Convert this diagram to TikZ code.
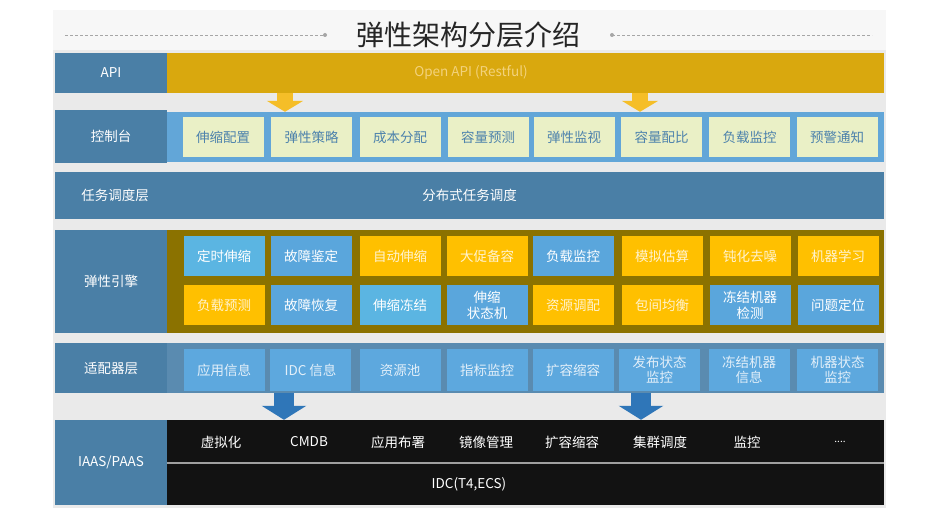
\documentclass[tikz,border=0pt]{standalone}
\usepackage{fontspec}
\setmainfont{Noto Sans CJK SC}
\usetikzlibrary{arrows.meta}

\definecolor{labelblue}{HTML}{4A7FA6}
\definecolor{goldbar}{HTML}{D9A80E}
\definecolor{apitext}{HTML}{F3D27C}
\definecolor{ctlframe}{HTML}{62A6D8}
\definecolor{ctlbox}{HTML}{EAF0C6}
\definecolor{ctltext}{HTML}{4D82AC}
\definecolor{olive}{HTML}{8B7200}
\definecolor{goldbox}{HTML}{FFC000}
\definecolor{goldtext}{HTML}{FFF3CF}
\definecolor{bluebox}{HTML}{5AA6DC}
\definecolor{cyanbox}{HTML}{5BB5E2}
\definecolor{adframe}{HTML}{5A8BB0}
\definecolor{adbox}{HTML}{5DA8DE}
\definecolor{adtext}{HTML}{E2EFF9}
\definecolor{panel}{HTML}{EAEAEA}
\definecolor{arrowgold}{HTML}{F5BE28}
\definecolor{arrowblue}{HTML}{2F76B8}

\tikzset{
  txt/.style={font=\fontsize{13.5}{15.5}\selectfont,align=center,inner sep=0pt},
  layer/.style={txt,fill=labelblue,text=white,minimum width=112pt},
  bar/.style={inner sep=0pt,minimum width=717pt},
  ctlcell/.style={txt,fill=ctlbox,text=ctltext,minimum width=81pt,minimum height=40pt},
  goldcell/.style={txt,fill=goldbox,text=goldtext,minimum width=81pt,minimum height=40pt},
  bluecell/.style={txt,fill=bluebox,text=white,minimum width=81pt,minimum height=40pt},
  cyancell/.style={bluecell,fill=cyanbox},
  adcell/.style={txt,fill=adbox,text=adtext,minimum width=81pt,minimum height=42pt},
  iaastxt/.style={txt,text=white},
  titleline/.style={draw=gray!70,densely dashed,line width=0.8pt},
  yarrow/.style={draw=arrowgold,line width=16pt,-{Triangle[width=36pt,length=11pt]}},
  barrow/.style={draw=arrowblue,line width=20pt,-{Triangle[width=44pt,length=14pt]}}
}

\begin{document}
\begin{tikzpicture}[x=1pt,y=-1pt]
    \useasboundingbox[fill=white] (0,0) rectangle (948,521);
    \fill[panel] (53,10) rectangle (886,508);
    \fill[gray!6] (53,10) rectangle (886,50);

    % title
    \node[font=\fontsize{28}{30}\selectfont,text=black!85,inner sep=0pt] (title) at (468,35) {弹性架构分层介绍};
    \coordinate (tl) at (65,35);
    \coordinate (tld) at (325,35);
    \coordinate (trd) at (612,35);
    \coordinate (tr) at (872,35);
    \draw[titleline] (tl) -- (tld);
    \draw[titleline] (trd) -- (tr);
    \fill[gray!70] (tld) circle (2pt);
    \fill[gray!70] (trd) circle (2pt);

    % API
    \node[layer,minimum height=40pt] (api) at (111,73) {API};
    \node[bar,fill=goldbar,minimum height=40pt] (apibar) at (525.5,73) {};
    \node[txt,text=apitext] (apitxt) at (471,73) {Open API (Restful)};

    % control
    \node[layer,minimum height=53pt] (ctl) at (111,136.5) {控制台};
    \node[bar,fill=ctlframe,minimum height=50pt] (ctlbar) at (525.5,137) {};
    \node[ctlcell] (c1) at (223,137) {伸缩配置};
    \node[ctlcell] (c2) at (311.5,137) {弹性策略};
    \node[ctlcell] (c3) at (400,137) {成本分配};
    \node[ctlcell] (c4) at (488,137) {容量预测};
    \node[ctlcell] (c5) at (574,137) {弹性监视};
    \node[ctlcell] (c6) at (661.5,137) {容量配比};
    \node[ctlcell] (c7) at (749.5,137) {负载监控};
    \node[ctlcell] (c8) at (837,137) {预警通知};

    \coordinate (ya1) at (285,0);
    \coordinate (ya2) at (640,0);
    \draw[yarrow] (apibar.south -| ya1) -- (ctlbar.north -| ya1);
    \draw[yarrow] (apibar.south -| ya2) -- (ctlbar.north -| ya2);

    % task scheduling
    \node[layer,minimum width=829pt,minimum height=47pt] (task) at (469.5,195.5) {分布式任务调度};
    \node[txt,text=white] (tasklbl) at (115,195.5) {任务调度层};

    % engine
    \node[layer,minimum height=103pt] (eng) at (111,281.5) {弹性引擎};
    \node[bar,fill=olive,minimum height=103pt] (engbar) at (525.5,281.5) {};
    \node[cyancell] (e1) at (224,256) {定时伸缩};
    \node[bluecell] (e2) at (311,256) {故障鉴定};
    \node[goldcell] (e3) at (400,256) {自动伸缩};
    \node[goldcell] (e4) at (487,256) {大促备容};
    \node[bluecell] (e5) at (573,256) {负载监控};
    \node[goldcell] (e6) at (662,256) {模拟估算};
    \node[goldcell] (e7) at (750,256) {钝化去噪};
    \node[goldcell] (e8) at (838,256) {机器学习};
    \node[goldcell] (f1) at (224,305.5) {负载预测};
    \node[bluecell] (f2) at (311,305.5) {故障恢复};
    \node[cyancell] (f3) at (400,305.5) {伸缩冻结};
    \node[bluecell] (f4) at (487,305.5) {伸缩\\状态机};
    \node[goldcell] (f5) at (573,305.5) {资源调配};
    \node[goldcell] (f6) at (662,305.5) {包间均衡};
    \node[bluecell] (f7) at (750,305.5) {冻结机器\\检测};
    \node[bluecell] (f8) at (838,305.5) {问题定位};

    % adapter
    \node[layer,minimum height=50pt] (ad) at (111,368) {适配器层};
    \node[bar,fill=adframe,minimum height=50pt] (adbar) at (525.5,368) {};
    \node[adcell] (a1) at (224,370) {应用信息};
    \node[adcell] (a2) at (310.5,370) {IDC 信息};
    \node[adcell] (a3) at (400,370) {资源池};
    \node[adcell] (a4) at (487,370) {指标监控};
    \node[adcell] (a5) at (573,370) {扩容缩容};
    \node[adcell] (a6) at (659.5,370) {发布状态\\监控};
    \node[adcell] (a7) at (749,370) {冻结机器\\信息};
    \node[adcell] (a8) at (837.5,370) {机器状态\\监控};

    % IAAS / PAAS
    \node[layer,minimum height=85pt] (iaas) at (111,462.5) {IAAS/PAAS};
    \node[bar,fill=black!93,minimum height=85pt] (iaasbar) at (525.5,462.5) {};
    \draw[draw=gray!75,line width=1.2pt] (iaasbar.west |- 0,463) -- (iaasbar.east |- 0,463);
    \node[iaastxt] (b1) at (221,442) {虚拟化};
    \node[iaastxt] (b2) at (309,442) {CMDB};
    \node[iaastxt] (b3) at (398,442) {应用布署};
    \node[iaastxt] (b4) at (486,442) {镜像管理};
    \node[iaastxt] (b5) at (572,442) {扩容缩容};
    \node[iaastxt] (b6) at (660,442) {集群调度};
    \node[iaastxt] (b7) at (747,442) {监控};
    \node[iaastxt,font=\fontsize{10}{12}\selectfont] (b8) at (840,442) {....};
    \node[iaastxt] (idc) at (469,484) {IDC(T4,ECS)};

    \coordinate (ba1) at (284,0);
    \coordinate (ba2) at (641,0);
    \draw[barrow] (adbar.south -| ba1) -- (iaasbar.north -| ba1);
    \draw[barrow] (adbar.south -| ba2) -- (iaasbar.north -| ba2);
  \end{tikzpicture}
\end{document}
